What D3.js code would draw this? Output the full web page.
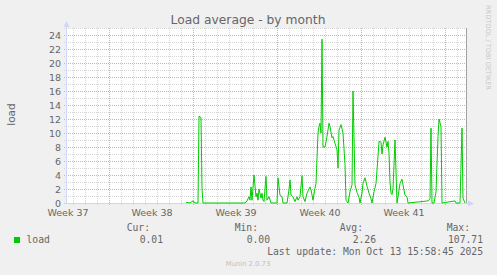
<!DOCTYPE html>
<html>
<head>
<script src="https://d3js.org/d3.v7.min.js"></script>
<style>
  body { margin: 0; background: #f0f0f0; }
  svg { display: block; }
</style>
</head>
<body>
<script>
// hours after 2025-09-15 00:00 UTC, and the load average at that time
var hours = [154, 162, 168, 172, 178, 180, 184, 186, 188,
  272, 276, 280, 282, 284, 286, 290, 294, 296, 298, 300, 304, 306, 308, 310, 314, 316, 320, 324,
  336, 338, 342, 346, 348, 356, 360, 362, 364, 368, 372, 376, 378, 382, 386, 388, 392, 396,
  402, 404, 408, 412, 414, 418, 420, 422, 424, 426, 428, 432, 436, 440, 442, 446, 448, 452,
  456, 458, 460, 464, 468, 472, 474, 478, 482, 486, 488, 492, 496, 500, 502, 506, 508, 512,
  516, 520, 524, 526, 530, 534, 536, 540, 544, 546, 548, 552, 556, 558, 560, 562, 564, 566,
  568, 572, 576, 580, 582, 586, 588, 592, 596, 598, 638, 642, 644, 646, 650, 654, 658, 660,
  664, 666, 692, 694, 702, 706, 708, 712];
var load = [0.1, 0.0, 0.3, 0.0, 0.0, 12.4, 12.2, 2.1, 0.0,
  0.0, 0.3, 0.9, 0.4, 2.3, 0.4, 4.0, 0.9, 1.4, 0.4, 2.0, 0.7, 1.4, 0.4, 0.2, 3.8, 0.4, 0.9, 0.0,
  0.0, 3.6, 1.1, 0.9, 0.0, 0.0, 1.9, 3.3, 1.1, 0.9, 0.2, 0.9, 0.4, 0.9, 3.9, 0.9, 0.2, 1.4,
  2.3, 1.9, 0.4, 2.1, 2.8, 10.0, 10.9, 11.4, 10.0, 23.4, 8.0, 8.0, 9.5, 11.4, 10.9, 9.3, 9.5, 8.5,
  7.6, 5.0, 10.4, 11.2, 10.0, 5.5, 0.4, 0.0, 1.6, 2.6, 16.0, 2.6, 1.5, 0.8, 0.0, 1.4, 2.8, 3.6,
  2.4, 1.4, 0.6, 0.0, 1.6, 2.8, 4.7, 8.8, 8.7, 7.0, 8.3, 9.4, 8.0, 8.8, 7.1, 3.0, 1.4, 1.2,
  2.0, 9.0, 0.0, 1.8, 2.8, 3.4, 2.6, 1.1, 0.9, 0.0, 0.3, 0.6, 10.7, 0.0, 0.0, 1.6, 9.5, 12.0,
  10.9, 0.0, 0.3, 0.0, 0.0, 10.7, 0.7, 0.0];

var weekLabels = ["Week 37", "Week 38", "Week 39", "Week 40", "Week 41"];
var yTicks = [0, 2, 4, 6, 8, 10, 12, 14, 16, 18, 20, 22, 24];
var legendHeads = ["Cur:", "Min:", "Avg:", "Max:"];
var legendValues = ["0.01", "0.00", "2.26", "107.71"];
var lastUpdate = "Last update: Mon Oct 13 15:58:45 2025";

var width = 497, height = 275;
var HOUR = 3600 * 1000;
var t0 = Date.UTC(2025, 8, 15);

var svg = d3.select("body").append("svg")
  .attr("width", width)
  .attr("height", height);

var x = d3.scaleUtc()
  .domain([new Date(t0 - 86 * HOUR), new Date(t0 + 714 * HOUR)])
  .range([66, 466]);
var y = d3.scaleLinear().domain([0, 25]).range([203, 28]);

var sans = "DejaVu Sans", mono = "DejaVu Sans Mono";
var fontCol = "#666";
var minorCol = "#d6d6d6", majorCol = "#e9a4a4";

// canvas
svg.append("rect")
  .attr("x", 66).attr("y", 28)
  .attr("width", 400).attr("height", 175)
  .attr("fill", "#fff");

// minor grid
var minorY = d3.range(1, 26).filter(function (d) { return d % 2; });
svg.append("g").selectAll("line").data(minorY).enter().append("line")
  .attr("x1", 64).attr("x2", 468)
  .attr("y1", function (d) { return Math.round(y(d)) + 0.5; })
  .attr("y2", function (d) { return Math.round(y(d)) + 0.5; })
  .attr("stroke", minorCol).attr("stroke-dasharray", "1,1");

var days = d3.utcDay.range(x.domain()[0], x.domain()[1])
  .filter(function (d) { return d.getUTCDay() != 1; });
svg.append("g").selectAll("line").data(days).enter().append("line")
  .attr("x1", function (d) { return Math.round(x(d)) + 0.5; })
  .attr("x2", function (d) { return Math.round(x(d)) + 0.5; })
  .attr("y1", 28).attr("y2", 205)
  .attr("stroke", minorCol).attr("stroke-dasharray", "1,1");

// major grid
svg.append("g").selectAll("line").data(yTicks.slice(1)).enter().append("line")
  .attr("x1", 64).attr("x2", 468)
  .attr("y1", function (d) { return Math.round(y(d)) + 0.5; })
  .attr("y2", function (d) { return Math.round(y(d)) + 0.5; })
  .attr("stroke", majorCol).attr("stroke-dasharray", "1,1");

var weeks = d3.utcMonday.range(x.domain()[0], x.domain()[1]);
svg.append("g").selectAll("line").data(weeks).enter().append("line")
  .attr("x1", function (d) { return Math.round(x(d)) + 0.5; })
  .attr("x2", function (d) { return Math.round(x(d)) + 0.5; })
  .attr("y1", 28).attr("y2", 205)
  .attr("stroke", majorCol).attr("stroke-dasharray", "1,1");

// right border
svg.append("line")
  .attr("x1", 466.5).attr("x2", 466.5).attr("y1", 28).attr("y2", 203)
  .attr("stroke", "#a0a0a0");

// axes
svg.append("line").attr("x1", 66.5).attr("x2", 66.5).attr("y1", 25).attr("y2", 204)
  .attr("stroke", "#cfd6f8");
svg.append("line").attr("x1", 64).attr("x2", 470).attr("y1", 203.5).attr("y2", 203.5)
  .attr("stroke", "#cfd6f8");
svg.append("path").attr("d", "M63.5,27 L66.5,21 L69.5,27 Z").attr("fill", "#cfd6f8");
svg.append("path").attr("d", "M468,200.5 L474,203.5 L468,206.5 Z").attr("fill", "#cfd6f8");

// y tick labels
svg.append("g").selectAll("text").data(yTicks).enter().append("text")
  .attr("x", 61)
  .attr("y", function (d) { return y(d) + 3.5; })
  .attr("text-anchor", "end")
  .attr("font-family", sans).attr("font-size", 9.5)
  .attr("fill", fontCol)
  .text(function (d) { return d; });

// week labels, centred mid-week
svg.append("g").selectAll("text").data(weekLabels).enter().append("text")
  .attr("x", function (d, i) {
    return x(new Date(t0 + (i - 1) * 7 * 24 * HOUR + 3.5 * 24 * HOUR)) + 1;
  })
  .attr("y", 216)
  .attr("text-anchor", "middle")
  .attr("font-family", sans).attr("font-size", 9.5)
  .attr("fill", fontCol)
  .text(function (d) { return d; });

// data line
var pts = hours.map(function (h, i) { return [new Date(t0 + h * HOUR), load[i]]; });
var line = d3.line()
  .x(function (d) { return x(d[0]); })
  .y(function (d) { return y(d[1]); });
svg.append("path")
  .datum(pts)
  .attr("d", line)
  .attr("fill", "none")
  .attr("stroke", "#00cc00")
  .attr("stroke-width", 1);

// title and side texts
svg.append("text")
  .attr("x", 248).attr("y", 24)
  .attr("text-anchor", "middle")
  .attr("font-family", sans).attr("font-size", 12.3)
  .attr("fill", fontCol)
  .text("Load average - by month");

svg.append("text")
  .attr("transform", "translate(15,114.5) rotate(-90)")
  .attr("text-anchor", "middle")
  .attr("font-family", sans).attr("font-size", 10.5)
  .attr("fill", fontCol)
  .text("load");

svg.append("text")
  .attr("transform", "translate(486,5) rotate(90)")
  .attr("font-family", sans).attr("font-size", 6.6)
  .attr("fill", "#c8c8c8")
  .text("RRDTOOL / TOBI OETIKER");

// legend
var headRight = [150, 258, 363, 470];
var valRight = [163, 270, 376, 483];
svg.append("g").selectAll("text").data(legendHeads).enter().append("text")
  .attr("x", function (d, i) { return headRight[i]; })
  .attr("y", 231)
  .attr("text-anchor", "end")
  .attr("font-family", mono).attr("font-size", 9.7)
  .attr("fill", fontCol)
  .text(function (d) { return d; });

svg.append("rect")
  .attr("x", 14).attr("y", 237)
  .attr("width", 6).attr("height", 6)
  .attr("fill", "#00cc00");
svg.append("text")
  .attr("x", 26.5).attr("y", 242.5)
  .attr("font-family", mono).attr("font-size", 9.7)
  .attr("fill", fontCol)
  .text("load");

svg.append("g").selectAll("text").data(legendValues).enter().append("text")
  .attr("x", function (d, i) { return valRight[i]; })
  .attr("y", 242.5)
  .attr("text-anchor", "end")
  .attr("font-family", mono).attr("font-size", 9.7)
  .attr("fill", fontCol)
  .text(function (d) { return d; });

svg.append("text")
  .attr("x", 483).attr("y", 254.5)
  .attr("text-anchor", "end")
  .attr("font-family", mono).attr("font-size", 9.7)
  .attr("fill", fontCol)
  .text(lastUpdate);

svg.append("text")
  .attr("x", 248).attr("y", 266)
  .attr("text-anchor", "middle")
  .attr("font-family", sans).attr("font-size", 6.8)
  .attr("fill", "#c0c0c0")
  .text("Munin 2.0.73");
</script>
</body>
</html>
